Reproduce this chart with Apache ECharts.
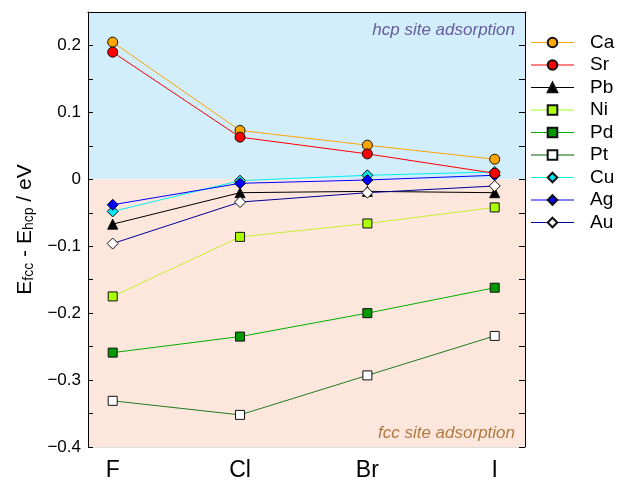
<!DOCTYPE html>
<html><head><meta charset="utf-8">
<script src="https://cdn.jsdelivr.net/npm/echarts@6/dist/echarts.min.js"></script>
<style>html,body{margin:0;padding:0;background:#fff}#c{width:618px;height:482px}</style>
</head><body><div id="c"></div>
<script>
const categories = ['F', 'Cl', 'Br', 'I'];
const yTickLabels = [-0.4, -0.3, -0.2, -0.1, 0, 0.1, 0.2];
const yMinorTicks = [-0.4, -0.35, -0.3, -0.25, -0.2, -0.15, -0.1, -0.05, 0, 0.05, 0.1, 0.15, 0.2];
const seriesNames = ['Ca', 'Sr', 'Pb', 'Ni', 'Pd', 'Pt', 'Cu', 'Ag', 'Au'];
const Ca = [0.205, 0.073, 0.051, 0.030];
const Sr = [0.190, 0.063, 0.038, 0.009];
const Pb = [-0.067, -0.020, -0.018, -0.020];
const Ni = [-0.175, -0.086, -0.066, -0.042];
const Pd = [-0.259, -0.235, -0.200, -0.162];
const Pt = [-0.331, -0.352, -0.293, -0.234];
const Cu = [-0.048, -0.002, 0.006, 0.011];
const Ag = [-0.038, -0.006, -0.001, 0.006];
const Au = [-0.096, -0.034, -0.020, -0.010];
const values = {Ca, Sr, Pb, Ni, Pd, Pt, Cu, Ag, Au};
const xMin = -0.194, xMax = 3.238, yMin = -0.4, yMax = 0.25;

const styles = {
  Ca: {line: '#ffa500', fill: '#ffa500', symbol: 'circle', size: 10, z: 3},
  Sr: {line: '#ff0000', fill: '#ff0000', symbol: 'circle', size: 10, z: 5},
  Pb: {line: '#000000', fill: '#000000', symbol: 'triangle', size: 10, z: 3},
  Ni: {line: '#c4f030', fill: '#aaff00', symbol: 'rect', size: 9, z: 3},
  Pd: {line: '#00b000', fill: '#009900', symbol: 'rect', size: 9, z: 3},
  Pt: {line: '#1f7a1f', fill: '#ffffff', symbol: 'rect', size: 9, z: 3},
  Cu: {line: '#00f0f0', fill: '#00e8f0', symbol: 'diamond', size: 11, z: 4},
  Ag: {line: '#0000ff', fill: '#0000ff', symbol: 'diamond', size: 11, z: 4},
  Au: {line: '#000099', fill: '#ffffff', symbol: 'diamond', size: 11, z: 4}
};
const legendLight = {Sr: '#ff8080', Ni: '#ccff88', Pt: '#80b080', Ag: '#8080ff'};

const font = 'Liberation Sans, Arial, sans-serif';
const fmt = v => {
  const r = Math.round(v * 10) / 10;
  if (r === 0) return '0';
  return (r < 0 ? '\u2212' : '') + Math.abs(r).toFixed(1);
};

const series = seriesNames.map(n => ({
  name: n,
  type: 'line',
  data: values[n].map((v, i) => [i, v]),
  symbol: styles[n].symbol,
  symbolSize: styles[n].size,
  z: styles[n].z,
  lineStyle: {color: styles[n].line, width: 1},
  itemStyle: {color: styles[n].fill, borderColor: '#111', borderWidth: 1},
  emphasis: {disabled: true},
  animation: false
}));

series.unshift({
  name: 'bg',
  type: 'line',
  data: [],
  silent: true,
  z: -5,
  animation: false,
  markArea: {
    silent: true,
    data: [
      [{xAxis: xMin, yAxis: 0, itemStyle: {color: '#d2edfb'},
        label: {show: true, position: 'insideTopRight', formatter: 'hcp site adsorption',
          color: '#665c9c', fontStyle: 'italic', fontSize: 17, fontFamily: font, offset: [-5, 5]}},
       {xAxis: xMax, yAxis: yMax}],
      [{xAxis: xMin, yAxis: yMin, itemStyle: {color: '#fde6dc'},
        label: {show: true, position: 'insideBottomRight', formatter: 'fcc site adsorption',
          color: '#b07a45', fontStyle: 'italic', fontSize: 17, fontFamily: font, offset: [-5, 0]}},
       {xAxis: xMax, yAxis: 0}]
    ]
  }
});

const chart = echarts.init(document.getElementById('c'), null, {renderer: 'canvas'});
chart.setOption({
  animation: false,
  backgroundColor: '#ffffff',
  grid: {left: 88, right: 93, top: 12, bottom: 35},
  xAxis: [{
    type: 'value', min: xMin, max: xMax, z: 10,
    axisLine: {show: true, onZero: false, lineStyle: {color: '#dddddd', width: 1}},
    axisTick: {show: false},
    splitLine: {show: false},
    axisLabel: {customValues: [0, 1, 2, 3], formatter: v => categories[Math.round(v)],
      fontSize: 23, color: '#000', fontFamily: font, margin: 12}
  }, {
    type: 'value', position: 'top', min: xMin, max: xMax, z: 10,
    axisLine: {show: true, onZero: false, lineStyle: {color: '#000', width: 1}},
    axisTick: {show: false}, splitLine: {show: false}, axisLabel: {show: false}
  }],
  yAxis: [{
    type: 'value', min: yMin, max: yMax, position: 'left', z: 10,
    axisLine: {show: true, onZero: false, lineStyle: {color: '#000', width: 1}},
    axisTick: {show: true, inside: true, length: 5, customValues: yMinorTicks, lineStyle: {color: '#000'}},
    splitLine: {show: false},
    axisLabel: {customValues: yTickLabels, formatter: fmt, fontSize: 17, color: '#000', fontFamily: font, margin: 7},
    name: 'E{sub|fcc} - E{sub|hcp} / eV',
    nameLocation: 'middle', nameRotate: 90, nameGap: 47,
    nameTextStyle: {fontSize: 21, color: '#000', fontFamily: font,
      rich: {sub: {fontSize: 14, fontFamily: font, color: '#000', verticalAlign: 'bottom', padding: [9, 0, 0, 0]}}}
  }, {
    type: 'value', min: yMin, max: yMax, position: 'right', z: 10,
    axisLine: {show: true, onZero: false, lineStyle: {color: '#000', width: 1}},
    axisTick: {show: true, inside: true, length: 6, customValues: yMinorTicks, lineStyle: {color: '#000'}},
    splitLine: {show: false},
    axisLabel: {show: false}
  }],
  legend: {
    orient: 'vertical', left: 525, top: 28,
    itemWidth: 43, itemHeight: 12, itemGap: 3.5,
    textStyle: {fontSize: 19, color: '#000', fontFamily: font, padding: [0, 0, 0, 11]},
    data: seriesNames.map(n => legendLight[n]
      ? {name: n, lineStyle: {color: legendLight[n], width: 2}}
      : {name: n, lineStyle: {width: 1}}),
    selectedMode: false
  },
  series: series
});
</script></body></html>
